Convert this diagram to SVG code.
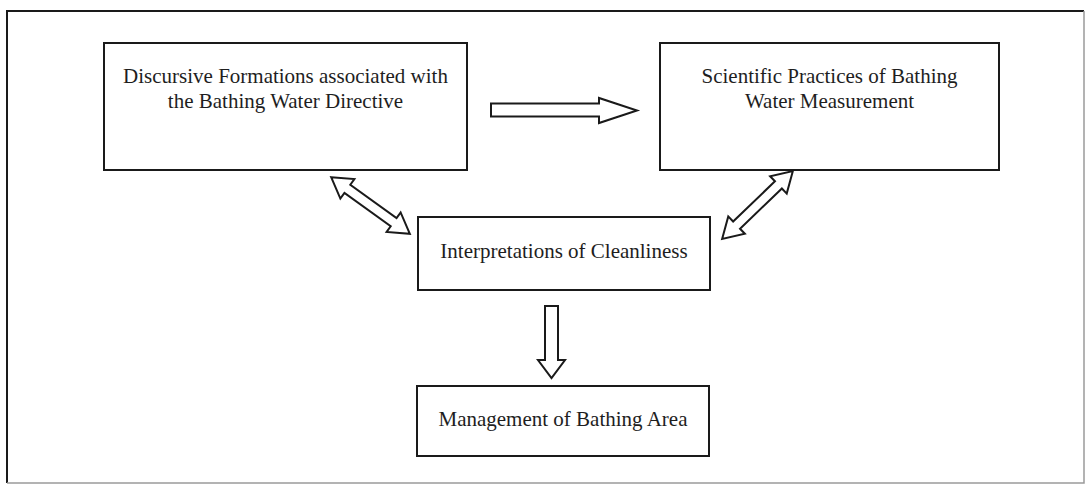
<svg xmlns="http://www.w3.org/2000/svg" width="1090" height="486" viewBox="0 0 1090 486">
  <style>
    .box { fill: #ffffff; stroke: #1a1a1a; stroke-width: 2; }
    .lbl { font-family: "Liberation Serif", "Times New Roman", serif; font-size: 21px; fill: #1e1e1e; text-anchor: middle; }
    .arr { fill: #ffffff; stroke: #1a1a1a; stroke-width: 2; stroke-linejoin: miter; }
  </style>
  <rect x="0" y="0" width="1090" height="486" fill="#ffffff"/>
  <g id="frame">
    <path d="M7,483 L7,11 L1084,11" fill="none" stroke="#1a1a1a" stroke-width="2"/>
    <path d="M1084,11 L1084,483 L7,483" fill="none" stroke="#9a9a9a" stroke-width="1.5"/>
  </g>
  <g id="node-discursive">
    <rect class="box" x="104" y="43" width="363" height="127"/>
    <text class="lbl" x="285.5" y="83">Discursive Formations associated with</text>
    <text class="lbl" x="285.5" y="108">the Bathing Water Directive</text>
  </g>
  <g id="node-scientific">
    <rect class="box" x="660" y="43" width="339" height="127"/>
    <text class="lbl" x="829.5" y="83">Scientific Practices of Bathing</text>
    <text class="lbl" x="829.5" y="108">Water Measurement</text>
  </g>
  <g id="node-interpretations">
    <rect class="box" x="418" y="217" width="292" height="73"/>
    <text class="lbl" x="564" y="258">Interpretations of Cleanliness</text>
  </g>
  <g id="node-management">
    <rect class="box" x="417" y="386" width="292" height="70"/>
    <text class="lbl" x="563" y="426">Management of Bathing Area</text>
  </g>
  <g id="connectors">
    <polygon class="arr" points="491,103.5 599,103.5 599,98 637,110.5 599,123 599,116.5 491,116.5"/>
    <polygon class="arr" points="545,306 558,306 558,360 565,360 551.5,378 538,360 545,360"/>
    <polygon class="arr" transform="translate(370.5,205.5) rotate(35.8)" points="-48.5,0 -28.5,-12 -28.5,-5 28.5,-5 28.5,-12 48.5,0 28.5,12 28.5,5 -28.5,5 -28.5,12"/>
    <polygon class="arr" transform="translate(757.5,205) rotate(136.2)" points="-49,0 -29,-12 -29,-5 29,-5 29,-12 49,0 29,12 29,5 -29,5 -29,12"/>
  </g>
</svg>
